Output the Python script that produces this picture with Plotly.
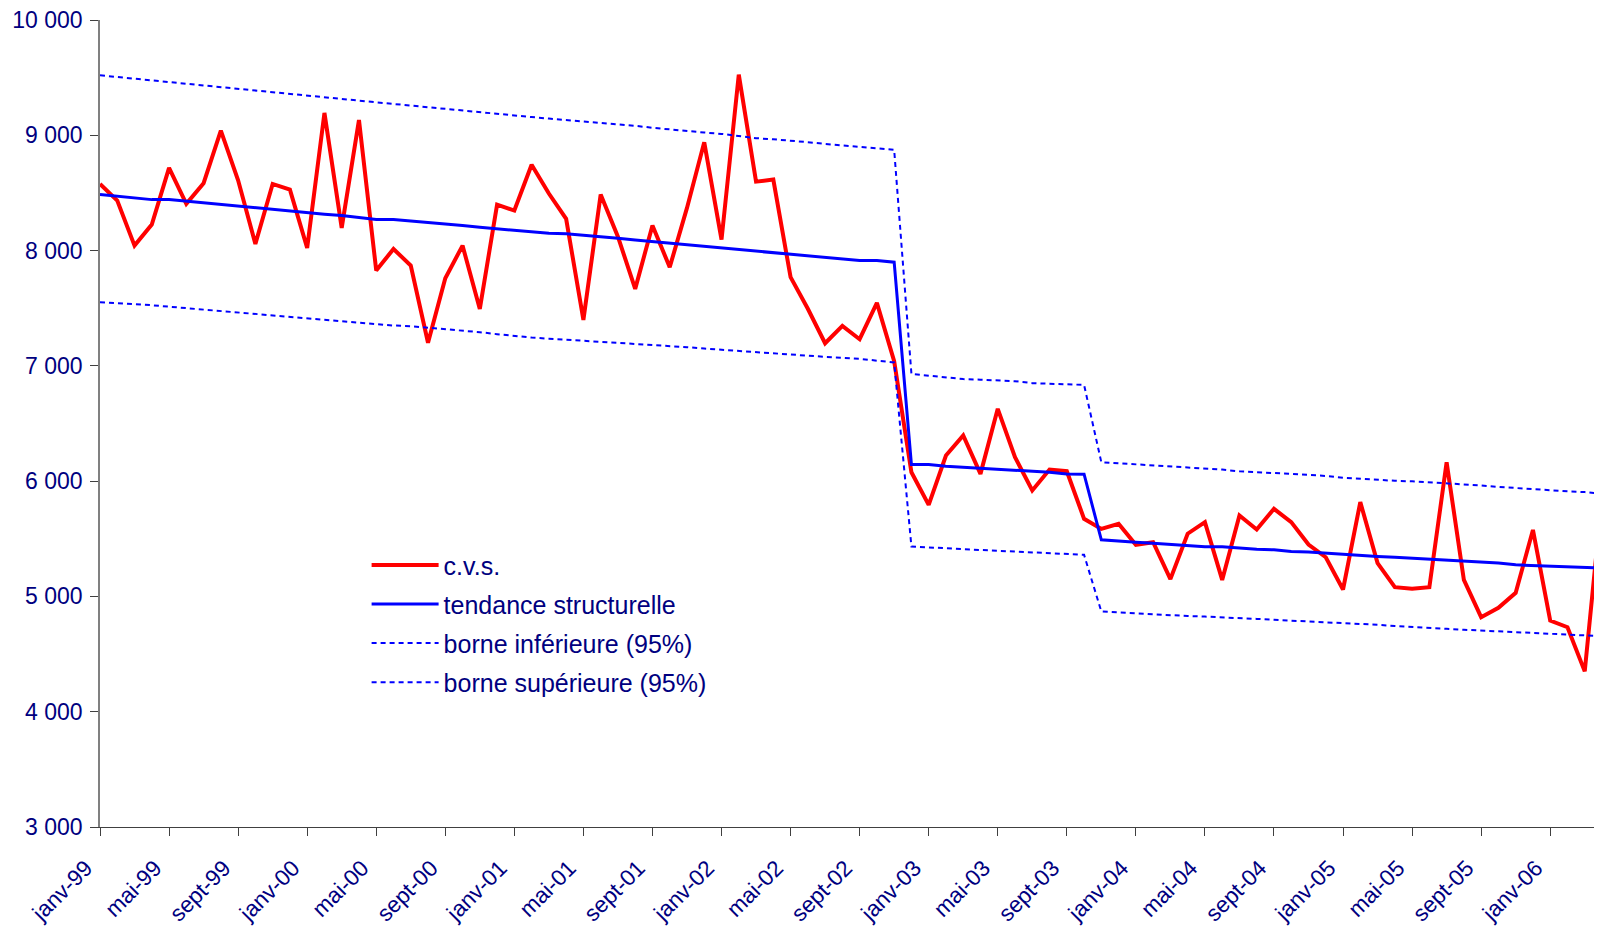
import plotly.graph_objects as go

months_fr = ["janv", "févr", "mars", "avr", "mai", "juin", "juil", "août", "sept", "oct", "nov", "déc"]
years = ["99", "00", "01", "02", "03", "04", "05", "06"]
categories = [f"{m}-{y}" for y in years for m in months_fr][:88]

cvs = [8578, 8434, 8043, 8225, 8717, 8405, 8584, 9040, 8610, 8058, 8578, 8529,
       8023, 9194, 8197, 9132, 7827, 8014, 7870, 7200, 7760, 8043, 7494, 8399,
       8347, 8745, 8495, 8275, 7399, 8486, 8120, 7668, 8217, 7856, 8370, 8939,
       8095, 9526, 8598, 8616, 7769, 7495, 7196, 7347, 7231, 7546, 7040, 6077,
       5794, 6222, 6396, 6063, 6627, 6208, 5919, 6101, 6086, 5673, 5586, 5630,
       5448, 5470, 5150, 5544, 5645, 5143, 5702, 5580, 5760, 5645, 5450, 5340,
       5060, 5818, 5289, 5080, 5066, 5080, 6163, 5143, 4820, 4901, 5031, 5577,
       4791, 4733, 4350, 5860]

tendance = [8486, 8472, 8457, 8442, 8442, 8428, 8414, 8400, 8385, 8370, 8353, 8341,
            8329, 8316, 8304, 8287, 8270, 8269, 8257, 8244, 8231, 8217, 8202, 8188,
            8173, 8162, 8150, 8145, 8134, 8120, 8106, 8092, 8078, 8065, 8052, 8039,
            8026, 8014, 8000, 7985, 7971, 7957, 7942, 7928, 7913, 7913, 7899,
            6144, 6144, 6130, 6121, 6115, 6107, 6092, 6086, 6077, 6063, 6060,
            5491, 5479, 5470, 5462, 5450, 5441, 5432, 5432, 5418, 5410, 5404, 5389,
            5385, 5375, 5361, 5356, 5347, 5340, 5332, 5318, 5312, 5303, 5296, 5289,
            5274, 5268, 5260, 5255, 5248, 5245]

borne_inf = [7552, 7545, 7536, 7526, 7513, 7500, 7487, 7475, 7463, 7452, 7441, 7428,
             7413, 7398, 7383, 7372, 7361, 7350, 7344, 7332, 7318, 7305, 7292, 7275,
             7258, 7245, 7236, 7227, 7219, 7210, 7202, 7193, 7185, 7174, 7162, 7150,
             7139, 7128, 7117, 7106, 7095, 7087, 7078, 7070, 7061, 7045, 7030,
             5433, 5428, 5418, 5410, 5403, 5395, 5389, 5383, 5375, 5365, 5361,
             4869, 4860, 4852, 4845, 4838, 4830, 4825, 4820, 4814, 4805, 4797, 4790,
             4784, 4778, 4771, 4762, 4754, 4743, 4733, 4726, 4719, 4711, 4704, 4700,
             4696, 4688, 4681, 4674, 4667, 4655]

borne_sup = [9520, 9505, 9491, 9476, 9462, 9447, 9432, 9418, 9403, 9389, 9374, 9359,
             9345, 9330, 9316, 9301, 9286, 9272, 9257, 9243, 9228, 9213, 9199, 9184,
             9170, 9158, 9145, 9133, 9122, 9110, 9099, 9082, 9065, 9050, 9035, 9024,
             9012, 8993, 8975, 8965, 8954, 8940, 8925, 8914, 8902, 8888, 8875,
             6930, 6915, 6900, 6885, 6880, 6875, 6867, 6850, 6843, 6838, 6835,
             6164, 6155, 6145, 6138, 6130, 6120, 6110, 6100, 6085, 6075, 6070, 6063,
             6055, 6045, 6030, 6020, 6008, 6003, 5998, 5990, 5983, 5975, 5963, 5950,
             5940, 5930, 5918, 5912, 5905, 5890]

tick_labels = categories[0:88:4][:22]
y_ticks = [3000, 4000, 5000, 6000, 7000, 8000, 9000, 10000]

NAVY = "#000080"
FONT = "Liberation Sans, Arial, sans-serif"

fig = go.Figure()
fig.add_trace(go.Scatter(x=categories, y=cvs, name="c.v.s.", mode="lines",
                         line=dict(color="#FF0000", width=4), legendgroup="a", legendrank=1))
fig.add_trace(go.Scatter(x=categories, y=tendance, name="tendance structurelle", mode="lines",
                         line=dict(color="#0000FF", width=3), legendgroup="b", legendrank=2))
fig.add_trace(go.Scatter(x=categories, y=borne_inf, name="borne inférieure (95%)", mode="lines",
                         line=dict(color="#0000FF", width=2, dash="5px,4px"), legendgroup="c", legendrank=3))
fig.add_trace(go.Scatter(x=categories, y=borne_sup, name="borne supérieure (95%)", mode="lines",
                         line=dict(color="#0000FF", width=2, dash="5px,4px"), legendgroup="d", legendrank=4))

# the page body has an 8px margin, so the figure is sized to fit the 1602x929 window
fig.update_layout(
    width=1594, height=921,
    margin=dict(l=92, r=0, t=12, b=102),
    paper_bgcolor="white", plot_bgcolor="white",
    font=dict(family=FONT, color=NAVY, size=23),
    separators=", ",
    showlegend=True,
    legend=dict(x=0.1775, y=0.353, xanchor="left", yanchor="top",
                bgcolor="rgba(0,0,0,0)", font=dict(size=25, color=NAVY),
                tracegroupgap=3.6, itemwidth=67),
    xaxis=dict(type="category", categoryorder="array", categoryarray=categories,
               range=[0, 87], tickmode="array", tickvals=tick_labels, ticktext=tick_labels,
               tickangle=-45, showline=True, linecolor="#404040", linewidth=1,
               ticks="outside", ticklen=8, tickcolor="#404040", showgrid=False, zeroline=False,
               automargin=False, ticklabelshift=-14, ticklabelstandoff=10,
               ticklabeloverflow="allow",
               tickfont=dict(size=22.5, color=NAVY)),
    yaxis=dict(range=[3000, 10000], tickvals=y_ticks, tickformat=",d",
               showline=True, linecolor="#808080", linewidth=1.5,
               ticks="outside", ticklen=8, tickcolor="#404040", showgrid=False, zeroline=False,
               automargin=False, ticklabelstandoff=3, ticklabeloverflow="allow",
               tickfont=dict(size=23, color=NAVY)),
)

fig.write_html("out.html")
